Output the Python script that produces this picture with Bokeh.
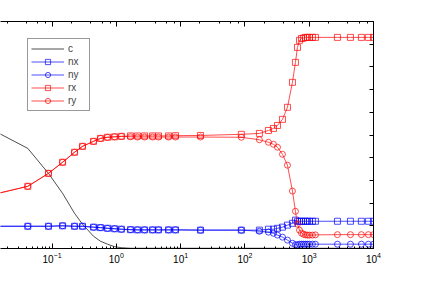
from bokeh.plotting import figure
from bokeh.models import Range1d, LogAxis, SingleIntervalTicker, LogTicker, Legend, LegendItem
from bokeh.embed import file_html
from bokeh.resources import INLINE

# ---- data ----
xs = [0.0093, 0.042, 0.088, 0.146, 0.224, 0.298, 0.442, 0.567, 0.729, 0.94,
      1.2, 1.66, 2.14, 2.75, 3.66, 4.53, 6.48, 8.33, 20.4, 88,
      168, 232, 278, 321, 384, 459, 549, 611, 657, 706,
      758, 813, 875, 940, 1010, 1123, 1250, 2750, 4380, 6480,
      8320, 10000]

c = [0.538, 0.441, 0.331, 0.243, 0.155, 0.107, 0.054, 0.032, 0.019, 0.008,
     0.0035, 0.001, 0.001, 0.001, 0.001, 0.001, 0.001, 0.001, 0.001, 0.001,
     0.001, 0.001, 0.001, 0.001, 0.001, 0.001, 0.001, 0.001, 0.001, 0.001,
     0.001, 0.001, 0.001, 0.001, 0.001, 0.001, 0.001, 0.001, 0.001, 0.001,
     0.001, 0.001]

nx = [0.098, 0.098, 0.098, 0.100, 0.098, 0.098, 0.094, 0.092, 0.089, 0.087,
      0.085, 0.083, 0.082, 0.082, 0.082, 0.082, 0.082, 0.082, 0.081, 0.081,
      0.081, 0.085, 0.085, 0.089, 0.094, 0.103, 0.111, 0.125, 0.120, 0.120,
      0.120, 0.120, 0.120, 0.120, 0.120, 0.120, 0.120, 0.120, 0.120, 0.120,
      0.120, 0.120]

ny = [0.098, 0.098, 0.098, 0.100, 0.098, 0.098, 0.094, 0.092, 0.089, 0.087,
      0.085, 0.083, 0.082, 0.082, 0.082, 0.082, 0.082, 0.082, 0.081, 0.081,
      0.076, 0.072, 0.067, 0.059, 0.050, 0.037, 0.023, 0.017, 0.016, 0.019,
      0.019, 0.019, 0.019, 0.019, 0.019, 0.019, 0.019, 0.019, 0.019, 0.019,
      0.019, 0.019]

rx = [0.230, 0.274, 0.331, 0.380, 0.424, 0.450, 0.472, 0.485, 0.490, 0.492,
      0.494, 0.496, 0.496, 0.496, 0.496, 0.496, 0.496, 0.497, 0.498, 0.503,
      0.507, 0.520, 0.529, 0.542, 0.569, 0.622, 0.732, 0.820, 0.886, 0.917,
      0.925, 0.927, 0.930, 0.930, 0.930, 0.930, 0.930, 0.930, 0.930, 0.930,
      0.930, 0.930]

ry = [0.230, 0.274, 0.331, 0.380, 0.424, 0.450, 0.472, 0.485, 0.490, 0.492,
      0.494, 0.492, 0.491, 0.491, 0.491, 0.491, 0.491, 0.491, 0.491, 0.490,
      0.479, 0.468, 0.459, 0.446, 0.415, 0.367, 0.253, 0.164, 0.107, 0.081,
      0.068, 0.063, 0.060, 0.059, 0.059, 0.059, 0.060, 0.061, 0.061, 0.061,
      0.061, 0.061]

x_start = 0.0158
x_end = 1e4

FONT = "Liberation Sans"

p = figure(x_axis_type="log", y_axis_location="right",
           frame_width=373, frame_height=227,
           min_border_left=0, min_border_top=21, min_border_right=48, min_border_bottom=33,
           x_range=Range1d(x_start, x_end), y_range=Range1d(0, 1),
           output_backend="svg", toolbar_location=None)
p.outline_line_color = None
p.xgrid.visible = False
p.ygrid.visible = False
p.background_fill_color = "white"
p.border_fill_color = "white"

LW = 0.7
r_c = p.line(xs, c, line_color="black", line_width=LW)
r_nxl = p.line(xs, nx, line_color="blue", line_width=LW)
r_nxm = p.scatter(xs, nx, marker="square", size=6, line_color="blue", fill_color=None, line_width=LW)
r_nyl = p.line(xs, ny, line_color="blue", line_width=LW)
r_nym = p.scatter(xs, ny, marker="circle", size=6, line_color="blue", fill_color=None, line_width=LW)
r_rxl = p.line(xs, rx, line_color="red", line_width=LW)
r_rxm = p.scatter(xs, rx, marker="square", size=6, line_color="red", fill_color=None, line_width=LW)
r_ryl = p.line(xs, ry, line_color="red", line_width=LW)
r_rym = p.scatter(xs, ry, marker="circle", size=6, line_color="red", fill_color=None, line_width=LW)

# bottom axis
xa = p.xaxis[0]
xa.major_tick_in = 5
xa.major_tick_out = 0
xa.minor_tick_in = 2
xa.minor_tick_out = 0
xa.axis_line_color = "black"
xa.major_label_text_font = FONT
xa.major_label_text_font_size = "10px"
xa.major_label_standoff = 3
xa.major_label_text_color = "black"

# right axis (ticks only)
ya = p.yaxis[0]
ya.ticker = SingleIntervalTicker(interval=0.1, num_minor_ticks=0)
ya.major_tick_in = 4
ya.major_tick_out = 0
ya.major_label_text_font_size = "2px"
ya.major_label_text_alpha = 0
ya.major_label_standoff = 0
ya.axis_line_color = "black"

# top axis (ticks only)
ta = LogAxis(ticker=LogTicker())
ta.major_tick_in = 5
ta.major_tick_out = 0
ta.minor_tick_in = 2
ta.minor_tick_out = 0
ta.major_label_text_font_size = "2px"
ta.major_label_text_alpha = 0
ta.major_label_standoff = 0
ta.axis_line_color = "black"
p.add_layout(ta, "above")

legend = Legend(items=[
    LegendItem(label="c", renderers=[r_c]),
    LegendItem(label="nx", renderers=[r_nxl, r_nxm]),
    LegendItem(label="ny", renderers=[r_nyl, r_nym]),
    LegendItem(label="rx", renderers=[r_rxl, r_rxm]),
    LegendItem(label="ry", renderers=[r_ryl, r_rym]),
], location=(27, 137))
legend.margin = 0
legend.padding = 3
legend.spacing = 0
legend.glyph_width = 33
legend.glyph_height = 13
legend.label_height = 13
legend.label_width = 18
legend.label_standoff = 4
legend.label_text_font = FONT
legend.label_text_font_size = "10px"
legend.border_line_color = "#333333"
legend.border_line_width = 1
legend.background_fill_color = "white"
legend.background_fill_alpha = 1
p.add_layout(legend)

open("out.html", "w").write(file_html(p, INLINE))
